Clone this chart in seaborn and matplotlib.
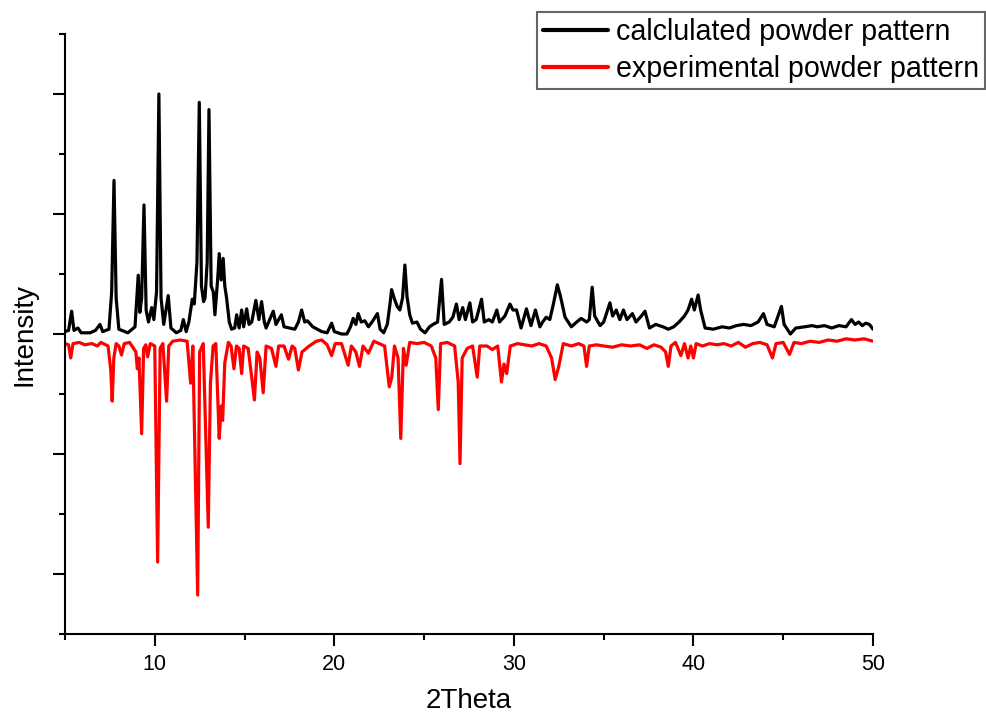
import matplotlib
matplotlib.use("Agg")
import matplotlib.pyplot as plt
import seaborn as sns
import pandas as pd
from matplotlib.ticker import MultipleLocator

# calculated powder pattern (2theta, intensity)
calc_2theta = [5.0, 5.2, 5.37, 5.5, 5.72, 5.9, 6.4, 6.7, 6.95, 7.1, 7.45, 7.6, 7.73, 7.85, 8.0, 8.5,
               8.9, 9.0, 9.08, 9.17, 9.27, 9.4, 9.52, 9.65, 9.83, 9.95, 10.1, 10.23, 10.35, 10.5, 10.75,
               10.9, 11.2, 11.45, 11.59, 11.75, 11.9, 12.09, 12.2, 12.35, 12.48, 12.6, 12.72, 12.8, 12.92,
               13.02, 13.14, 13.26, 13.35, 13.5, 13.59, 13.7, 13.81, 13.9, 14.0, 14.15, 14.28, 14.45,
               14.56, 14.7, 14.84, 14.95, 15.12, 15.25, 15.4, 15.63, 15.8, 15.95, 16.1, 16.2, 16.4, 16.6,
               16.75, 16.9, 17.05, 17.2, 17.5, 17.8, 18.0, 18.18, 18.35, 18.5, 18.8, 19.3, 19.6, 19.85,
               20.0, 20.4, 20.7, 20.9, 21.05, 21.2, 21.33, 21.5, 21.7, 21.9, 22.1, 22.4, 22.55, 22.75,
               22.95, 23.1, 23.19, 23.35, 23.5, 23.65, 23.8, 23.93, 24.05, 24.2, 24.35, 24.6, 24.8, 25.05,
               25.3, 25.5, 25.75, 25.97, 26.12, 26.4, 26.6, 26.8, 26.95, 27.15, 27.3, 27.55, 27.7, 27.9,
               28.2, 28.35, 28.6, 28.8, 29.05, 29.2, 29.5, 29.78, 29.95, 30.15, 30.4, 30.7, 30.95, 31.2,
               31.45, 31.6, 31.8, 32.0, 32.2, 32.42, 32.6, 32.85, 33.2, 33.5, 33.75, 34.05, 34.2, 34.36,
               34.5, 34.8, 35.0, 35.35, 35.5, 35.7, 35.9, 36.1, 36.3, 36.6, 36.8, 37.1, 37.3, 37.55, 37.9,
               38.3, 38.6, 38.9, 39.2, 39.5, 39.7, 39.9, 40.05, 40.26, 40.4, 40.65, 41.1, 41.6, 42.0, 42.4,
               42.8, 43.2, 43.6, 43.9, 44.1, 44.5, 44.9, 45.05, 45.4, 45.7, 46.2, 46.6, 46.9, 47.3, 47.7,
               48.1, 48.5, 48.8, 49.0, 49.2, 49.4, 49.6, 49.8, 50.0]
calc_intensity = [0.02, 0.03, 0.19, 0.03, 0.05, 0.01, 0.01, 0.03, 0.08, 0.02, 0.04, 0.35, 1.28, 0.3, 0.04,
                  0.01, 0.06, 0.3, 0.49, 0.18, 0.3, 1.075, 0.2, 0.1, 0.22, 0.12, 0.35, 2.0, 0.3, 0.08, 0.32,
                  0.05, 0.01, 0.03, 0.12, 0.02, 0.1, 0.29, 0.25, 0.6, 1.93, 0.4, 0.27, 0.3, 0.6,
                  1.87, 0.4, 0.35, 0.16, 0.45, 0.67, 0.45, 0.63, 0.4, 0.3, 0.1, 0.04, 0.05,
                  0.16, 0.05, 0.2, 0.06, 0.21, 0.08, 0.1, 0.28, 0.12, 0.27, 0.1, 0.05, 0.12, 0.19,
                  0.08, 0.12, 0.16, 0.06, 0.05, 0.04, 0.1, 0.2, 0.1, 0.11, 0.06, 0.02, 0.01, 0.09,
                  0.02, 0.0, 0.0, 0.06, 0.13, 0.08, 0.17, 0.1, 0.11, 0.06, 0.1, 0.17, 0.04, 0.01,
                  0.08, 0.25, 0.37, 0.29, 0.23, 0.2, 0.3, 0.575, 0.31, 0.16, 0.09, 0.1, 0.04, 0.01,
                  0.06, 0.08, 0.1, 0.455, 0.08, 0.1, 0.14, 0.25, 0.12, 0.22, 0.12, 0.26, 0.1, 0.12,
                  0.29, 0.1, 0.12, 0.1, 0.2, 0.1, 0.15, 0.25, 0.2, 0.2, 0.05, 0.21, 0.07, 0.2,
                  0.06, 0.1, 0.14, 0.12, 0.25, 0.41, 0.31, 0.14, 0.06, 0.1, 0.13, 0.1, 0.12, 0.39,
                  0.15, 0.07, 0.1, 0.26, 0.15, 0.2, 0.12, 0.2, 0.12, 0.17, 0.1, 0.15, 0.19, 0.05, 0.08,
                  0.06, 0.04, 0.06, 0.1, 0.15, 0.2, 0.29, 0.2, 0.325, 0.2, 0.05, 0.04, 0.06, 0.05, 0.07,
                  0.08, 0.07, 0.1, 0.17, 0.08, 0.06, 0.23, 0.08, 0.0, 0.05, 0.06, 0.07, 0.06, 0.07, 0.05,
                  0.07, 0.06, 0.12, 0.08, 0.1, 0.07, 0.09, 0.08, 0.04]

# experimental powder pattern, drawn inverted below the calculated one
exp_2theta = [5.0, 5.2, 5.32, 5.45, 5.8, 6.1, 6.5, 6.8, 7.0, 7.4, 7.55, 7.63, 7.72, 7.85, 8.0, 8.15, 8.3,
              8.6, 8.95, 9.03, 9.12, 9.27, 9.38, 9.5, 9.6, 9.75, 10.0, 10.16, 10.3, 10.45, 10.66, 10.78,
              11.0, 11.4, 11.8, 12.0, 12.12, 12.39, 12.5, 12.7, 12.98, 13.1, 13.25, 13.4, 13.59, 13.7,
              13.78, 13.9, 14.1, 14.25, 14.41, 14.55, 14.7, 14.84, 14.95, 15.2, 15.35, 15.55, 15.7, 15.85,
              16.04, 16.2, 16.5, 16.75, 16.9, 17.2, 17.45, 17.65, 17.8, 18.0, 18.2, 18.6, 19.0, 19.3,
              19.6, 19.85, 20.05, 20.4, 20.77, 20.95, 21.2, 21.4, 21.6, 21.9, 22.2, 22.5, 22.8, 22.95,
              23.06, 23.2, 23.35, 23.55, 23.7, 23.85, 24.0, 24.2, 24.6, 25.0, 25.4, 25.65, 25.79, 25.92,
              26.3, 26.7, 26.9, 27.0, 27.12, 27.4, 27.7, 27.96, 28.1, 28.5, 28.8, 29.1, 29.31, 29.45,
              29.6, 29.8, 30.2, 30.6, 31.0, 31.4, 31.8, 32.1, 32.3, 32.5, 32.75, 33.2, 33.6, 33.9, 34.05,
              34.2, 34.6, 35.0, 35.5, 36.0, 36.5, 37.0, 37.4, 37.8, 38.2, 38.45, 38.6, 38.75, 39.0, 39.3,
              39.5, 39.7, 39.85, 40.0, 40.15, 40.5, 40.9, 41.3, 41.7, 42.1, 42.5, 42.9, 43.3, 43.7, 44.1,
              44.4, 44.6, 45.0, 45.35, 45.6, 46.0, 46.5, 47.0, 47.5, 48.0, 48.5, 49.0, 49.5, 50.0]
exp_intensity = [-0.08, -0.09, -0.2, -0.08, -0.07, -0.09, -0.08, -0.1, -0.07, -0.1, -0.3, -0.56, -0.2,
                 -0.08, -0.1, -0.175, -0.08, -0.07, -0.15, -0.29, -0.2, -0.83, -0.12, -0.09, -0.19, -0.08,
                 -0.1, -1.9, -0.12, -0.08, -0.56, -0.1, -0.06, -0.05, -0.06, -0.41, -0.1, -2.175, -0.15,
                 -0.08, -1.61, -0.41, -0.1, -0.08, -0.87, -0.6, -0.72, -0.24, -0.07, -0.1, -0.29, -0.1,
                 -0.12, -0.33, -0.1, -0.12, -0.3, -0.55, -0.15, -0.2, -0.49, -0.1, -0.12, -0.27, -0.1,
                 -0.1, -0.21, -0.1, -0.12, -0.3, -0.15, -0.1, -0.06, -0.05, -0.09, -0.18, -0.08, -0.08,
                 -0.26, -0.1, -0.15, -0.27, -0.1, -0.16, -0.06, -0.08, -0.1, -0.3, -0.44, -0.36, -0.1,
                 -0.2, -0.87, -0.12, -0.26, -0.07, -0.08, -0.07, -0.1, -0.2, -0.63, -0.08, -0.07, -0.1,
                 -0.4, -1.08, -0.2, -0.12, -0.1, -0.36, -0.1, -0.1, -0.13, -0.1, -0.4, -0.25, -0.33, -0.1,
                 -0.08, -0.09, -0.1, -0.08, -0.1, -0.2, -0.38, -0.27, -0.08, -0.1, -0.08, -0.1, -0.27,
                 -0.1, -0.09, -0.1, -0.11, -0.09, -0.1, -0.09, -0.12, -0.09, -0.11, -0.15, -0.27, -0.1,
                 -0.07, -0.18, -0.08, -0.2, -0.1, -0.2, -0.08, -0.1, -0.08, -0.09, -0.08, -0.1, -0.07,
                 -0.11, -0.08, -0.07, -0.09, -0.2, -0.08, -0.07, -0.17, -0.07, -0.08, -0.06, -0.07, -0.05,
                 -0.06, -0.04, -0.05, -0.04, -0.06]

df_calc = pd.DataFrame({"two_theta": calc_2theta, "intensity": calc_intensity})
df_exp = pd.DataFrame({"two_theta": exp_2theta, "intensity": exp_intensity})

sns.set_style("ticks")
plt.rcParams["font.family"] = ["Liberation Sans", "DejaVu Sans"]
plt.rcParams["text.color"] = "black"
plt.rcParams["axes.labelcolor"] = "black"
plt.rcParams["xtick.color"] = "black"
plt.rcParams["ytick.color"] = "black"

fig = plt.figure(figsize=(9.86, 7.13), dpi=100)
ax = fig.add_axes([0.0659, 0.1108, 0.8195, 0.8415])

sns.lineplot(data=df_calc, x="two_theta", y="intensity", color="black", linewidth=2.3,
             estimator=None, label="calclulated powder pattern", legend=False, ax=ax)
sns.lineplot(data=df_exp, x="two_theta", y="intensity", color="#ff0000", linewidth=2.3,
             estimator=None, label="experimental powder pattern", legend=False, ax=ax)

ax.set_xlim(5, 50)
ax.set_ylim(-2.5, 2.5)
ax.xaxis.set_major_locator(MultipleLocator(10))
ax.xaxis.set_minor_locator(MultipleLocator(5))
ax.yaxis.set_major_locator(MultipleLocator(1))
ax.yaxis.set_minor_locator(MultipleLocator(0.5))
ax.tick_params(which="major", length=8.6, width=1.5, direction="out", labelsize=15.5, pad=6,
               colors="black")
ax.tick_params(which="minor", length=4.3, width=1.5, direction="out", colors="black")
ax.tick_params(axis="y", labelleft=False)
sns.despine(ax=ax)
for side in ["left", "bottom"]:
    ax.spines[side].set_linewidth(1.5)
    ax.spines[side].set_color("black")

ax.set_xlabel("2Theta", fontsize=20, labelpad=9, color="black")
ax.set_ylabel("Intensity", fontsize=20, labelpad=11, color="black")

leg = fig.legend(loc="upper right", bbox_to_anchor=(985 / 986, 1 - 12 / 713), fontsize=20.6,
                 frameon=True, fancybox=False, handlelength=2.25, handletextpad=0.3,
                 labelspacing=0.33, borderpad=0.2, borderaxespad=0)
leg.get_frame().set_edgecolor("#404040")
leg.get_frame().set_linewidth(1.5)
for line in leg.get_lines():
    line.set_linewidth(3)
for txt in leg.get_texts():
    txt.set_color("black")

fig.savefig("out.png", dpi=100)
